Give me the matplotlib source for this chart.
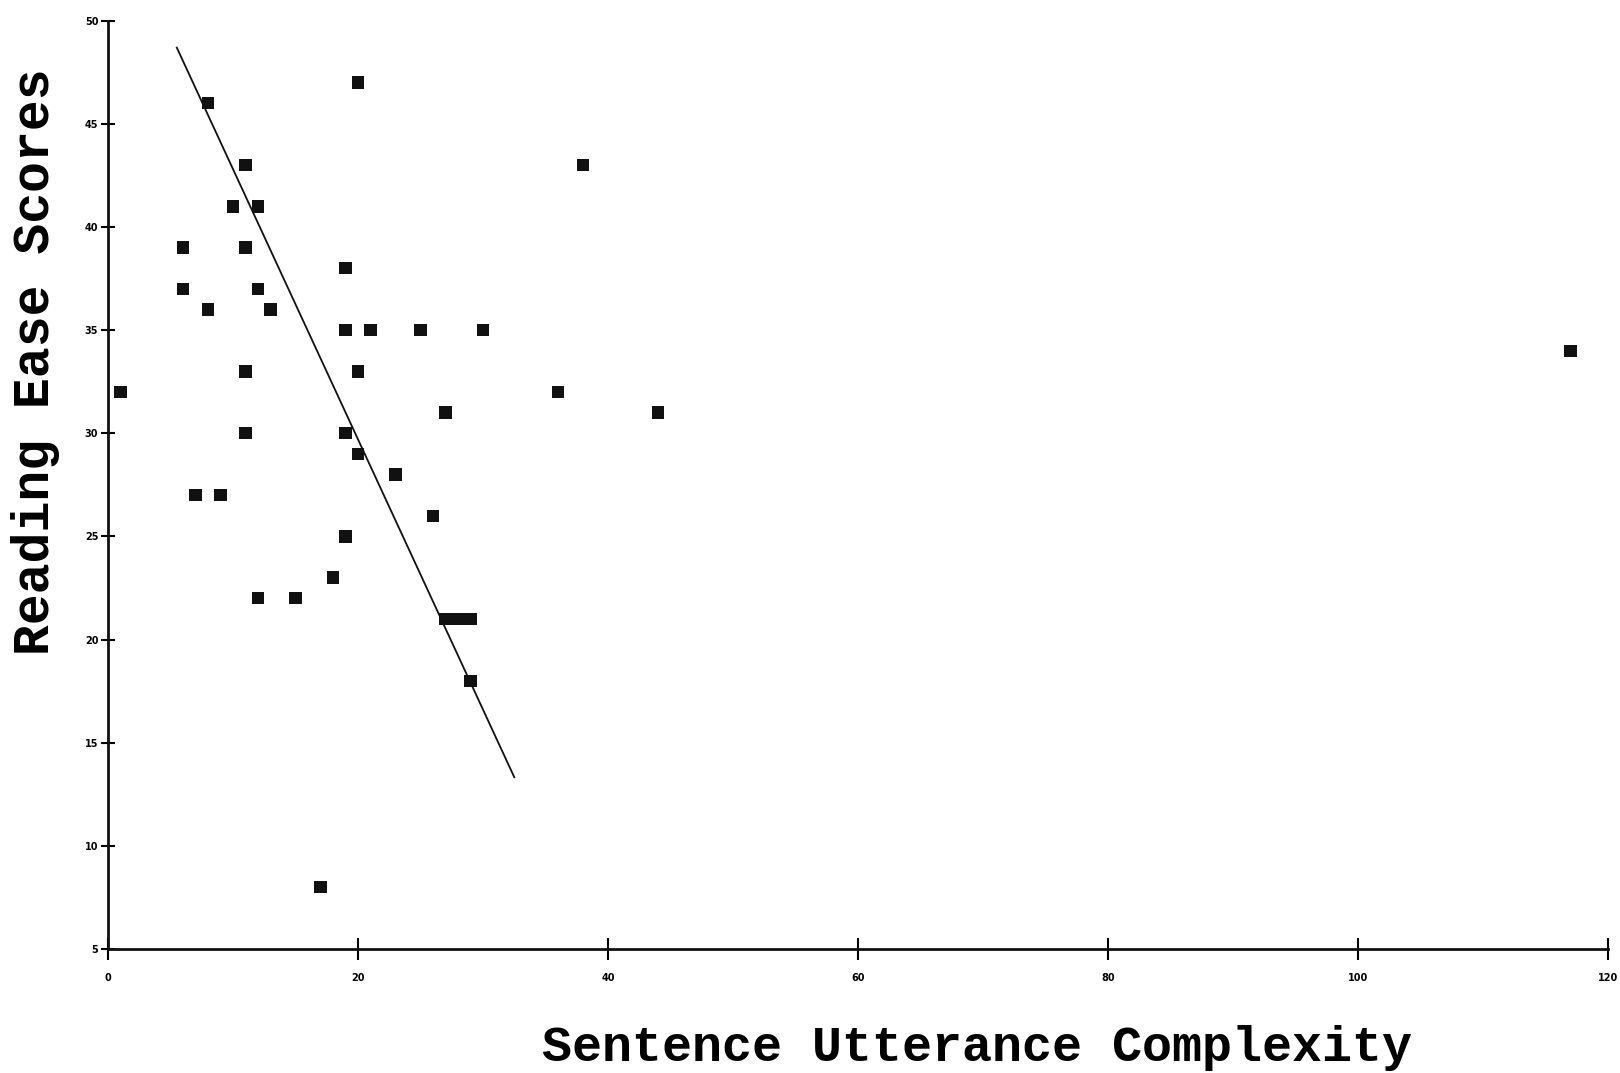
import matplotlib
matplotlib.use("Agg")
import matplotlib.pyplot as plt
import numpy as np

# Data
complexity = [1, 6, 6, 7, 8, 8, 9, 10, 11, 11, 11, 11, 12, 12, 12, 13, 15, 17, 18,
              19, 19, 19, 19, 20, 20, 20, 21, 23, 25, 26, 27, 27, 28, 29, 29, 30,
              36, 38, 44, 117]
reading_ease = [32, 39, 37, 27, 46, 36, 27, 41, 43, 39, 33, 30, 41, 37, 22, 36, 22, 8, 23,
                38, 35, 30, 25, 47, 33, 29, 35, 28, 35, 26, 31, 21, 21, 21, 18, 35,
                32, 43, 31, 34]

# Regression line parameters
fit_slope = -1.31
fit_intercept = 55.9
fit_x_range = [5.5, 32.5]

x_ticks = [0, 20, 40, 60, 80, 100, 120]
y_ticks = [5, 10, 15, 20, 25, 30, 35, 40, 45, 50]

fig = plt.figure(figsize=(16.2, 10.73), dpi=100)
ax = fig.add_axes([0.0667, 0.1156, 0.9926 - 0.0667, 0.9807 - 0.1156])

ax.scatter(complexity, reading_ease, marker="s", s=80, color="#111111",
           edgecolors="none", zorder=3)

fx = np.array(fit_x_range)
ax.plot(fx, fit_intercept + fit_slope * fx, color="#111111", lw=1.3, zorder=2)

ax.set_xlim(0, 120)
ax.set_ylim(5, 50)
ax.set_xticks(x_ticks)
ax.set_yticks(y_ticks)
ax.set_xticklabels([str(t) for t in x_ticks], fontsize=7, fontweight="bold")
ax.set_yticklabels([str(t) for t in y_ticks], fontsize=7, fontweight="bold")
ax.tick_params(axis="x", direction="inout", length=16, width=1.5, pad=9)
ax.tick_params(axis="y", direction="inout", length=10, width=1.5, pad=2)

for s in ["top", "right"]:
    ax.spines[s].set_visible(False)
for s in ["left", "bottom"]:
    ax.spines[s].set_linewidth(2)
    ax.spines[s].set_color("#111111")

fig.text(0.603, 0.0115, "Sentence Utterance Complexity", ha="center", va="baseline",
         fontsize=36, fontweight="bold", family="Liberation Mono")
fig.text(0.022, 0.663, "Reading Ease Scores", ha="center", va="center",
         rotation=90, fontsize=37, fontweight="bold", family="Liberation Mono")

fig.savefig("out.png", dpi=100)
